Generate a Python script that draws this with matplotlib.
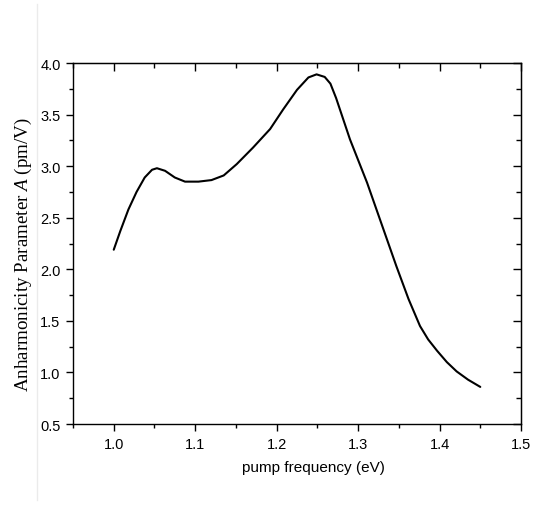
import numpy as np
import matplotlib
matplotlib.use('Agg')
import matplotlib.pyplot as plt
from matplotlib.lines import Line2D
from matplotlib.ticker import MultipleLocator

# values
freq = [1.000, 1.008, 1.018, 1.028, 1.038, 1.047, 1.053, 1.063, 1.075, 1.0875,
        1.104, 1.120, 1.135, 1.151, 1.171, 1.192, 1.208, 1.225, 1.239, 1.249,
        1.259, 1.266, 1.273, 1.290, 1.311, 1.331, 1.347, 1.362, 1.376, 1.386,
        1.397, 1.409, 1.421, 1.435, 1.450]
anharm = [2.19, 2.37, 2.58, 2.75, 2.89, 2.965, 2.98, 2.955, 2.89, 2.85,
          2.85, 2.865, 2.91, 3.02, 3.18, 3.36, 3.55, 3.74, 3.86, 3.89,
          3.865, 3.80, 3.66, 3.26, 2.84, 2.39, 2.03, 1.71, 1.45, 1.32,
          1.21, 1.10, 1.01, 0.93, 0.86]

plt.rcParams['font.family'] = ['Liberation Sans', 'DejaVu Sans']
plt.rcParams['mathtext.fontset'] = 'custom'
plt.rcParams['mathtext.it'] = 'Liberation Serif:italic'
plt.rcParams['mathtext.rm'] = 'Liberation Serif'

fig = plt.figure(figsize=(5.33, 5.06), dpi=100)
ax = fig.add_axes([0.137, 0.160, 0.8405, 0.7135])

ax.plot(freq, anharm, color='black', lw=1.5, solid_joinstyle='round',
        solid_capstyle='round')

ax.set_xlim(0.95, 1.5)
ax.set_ylim(0.5, 4.0)
ax.xaxis.set_minor_locator(MultipleLocator(0.05))
ax.yaxis.set_major_locator(MultipleLocator(0.5))
ax.yaxis.set_minor_locator(MultipleLocator(0.25))
ax.set_xticks([1.0, 1.1, 1.2, 1.3, 1.4, 1.5])
ax.set_xticklabels(['1.0', '1.1', '1.2', '1.3', '1.4', '1.5'])

ax.tick_params(which='major', direction='out', length=5, width=1, labelsize=10.5, pad=4)
ax.tick_params(which='minor', direction='out', length=3, width=1)
for s in ax.spines.values():
    s.set_linewidth(1)

# inward ticks on top and right
top = ax.secondary_xaxis('top')
top.xaxis.set_major_locator(MultipleLocator(0.1))
top.xaxis.set_minor_locator(MultipleLocator(0.05))
top.tick_params(which='major', direction='in', length=6, width=1, labeltop=False)
top.tick_params(which='minor', direction='in', length=3.5, width=1)
right = ax.secondary_yaxis('right')
right.yaxis.set_major_locator(MultipleLocator(0.5))
right.yaxis.set_minor_locator(MultipleLocator(0.25))
right.tick_params(which='major', direction='in', length=6, width=1, labelright=False)
right.tick_params(which='minor', direction='in', length=3.5, width=1)

ax.set_xlabel('pump frequency (eV)', fontsize=11)
ax.set_ylabel(r'Anharmonicity Parameter $\mathit{A}$ (pm/V)', fontsize=13.7,
              family='Liberation Serif')
ax.xaxis.set_label_coords(0.537, -0.100)
ax.yaxis.set_label_coords(-0.088, 0.471)

# faint frame line on the left of the picture
fig.add_artist(Line2D([0.069, 0.069], [0.01, 0.99], color='#ebebeb', lw=1,
                      transform=fig.transFigure))

fig.savefig('out.png', dpi=100)
